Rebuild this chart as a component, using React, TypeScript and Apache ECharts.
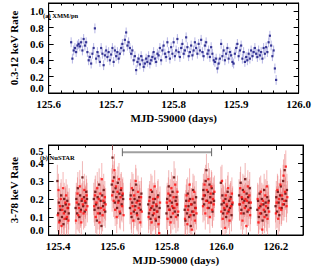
import { useEffect, useRef } from 'react';
import * as echarts from 'echarts';

// ---- XMM/pn light curve (0.3-12 keV) ----
const XMM_START = 125.636;
const XMM_STEP = 0.002;
const XMM_RATE = [
  0.62, 0.42, 0.52, 0.55, 0.50, 0.58, 0.60, 0.57, 0.62, 0.52,
  0.66, 0.58, 0.62, 0.50, 0.40, 0.44, 0.36, 0.48, 0.55, 0.79,
  0.42, 0.50, 0.45, 0.38, 0.55, 0.48, 0.34, 0.46, 0.52, 0.44,
  0.50, 0.40, 0.47, 0.55, 0.38, 0.52, 0.45, 0.50, 0.42, 0.48,
  0.55, 0.60, 0.52, 0.65, 0.74, 0.58, 0.62, 0.55, 0.48, 0.52,
  0.40, 0.45, 0.28, 0.38, 0.42, 0.35, 0.45, 0.40, 0.32, 0.36,
  0.42, 0.38, 0.45, 0.36, 0.40, 0.44, 0.50, 0.42, 0.38, 0.48,
  0.46, 0.55, 0.40, 0.52, 0.58, 0.48, 0.44, 0.62, 0.50, 0.42,
  0.56, 0.48, 0.62, 0.45, 0.52, 0.66, 0.50, 0.44, 0.55, 0.60,
  0.48, 0.52, 0.68, 0.56, 0.45, 0.50, 0.58, 0.46, 0.52, 0.62,
  0.55, 0.48, 0.60, 0.52, 0.65, 0.50, 0.45, 0.58, 0.62, 0.48,
  0.52, 0.44, 0.56, 0.48, 0.40, 0.38, 0.42, 0.30, 0.36, 0.42,
  0.60, 0.45, 0.52, 0.40, 0.48, 0.55, 0.42, 0.50, 0.46, 0.38,
  0.36, 0.48, 0.55, 0.60, 0.45, 0.52, 0.58, 0.42, 0.50, 0.38,
  0.44, 0.40, 0.48, 0.42, 0.52, 0.45, 0.50, 0.55, 0.48, 0.44,
  0.52, 0.46, 0.50, 0.42, 0.55, 0.48, 0.56, 0.50, 0.62, 0.70,
  0.58, 0.45, 0.52, 0.30, 0.16,
];
const XMM_ERR = 0.06;

// ---- NuSTAR light curve (3-78 keV), one row per orbit ----
const NU_ORBIT_START = [
  125.397, 125.464, 125.531, 125.597, 125.664, 125.731, 125.798,
  125.865, 125.931, 125.998, 126.065, 126.132, 126.199,
];
const NU_STEP = 0.0028;
const FPMA = [
  [0.30, 0.12, 0.18, 0.08, 0.14, 0.22, 0.10, 0.16, 0.06, 0.20, 0.13, 0.17, 0.09, 0.19, 0.15, 0.12],
  [0.15, 0.20, 0.12, 0.26, 0.17, 0.10, 0.22, 0.14, 0.19, 0.32, 0.16, 0.21, 0.13, 0.18, 0.24, 0.20],
  [0.20, 0.14, 0.24, 0.17, 0.08, 0.21, 0.15, 0.28, 0.12, 0.19, 0.05, 0.22, 0.16, 0.25, 0.18, 0.13],
  [0.28, 0.43, 0.24, 0.32, 0.18, 0.26, 0.21, 0.15, 0.29, 0.19, 0.23, 0.12, 0.25, 0.17, 0.22, 0.20],
  [0.15, 0.22, 0.10, 0.18, 0.25, 0.13, 0.20, 0.16, 0.28, 0.12, 0.19, 0.09, 0.21, 0.17, 0.14, 0.23],
  [0.17, 0.12, 0.21, 0.09, 0.15, 0.24, 0.11, 0.18, 0.14, 0.20, 0.08, 0.16, 0.13, 0.22, 0.10, 0.15],
  [0.12, 0.20, 0.16, 0.27, 0.14, 0.22, 0.10, 0.18, 0.24, 0.15, 0.32, 0.13, 0.19, 0.21, 0.17, 0.11],
  [0.14, 0.08, 0.19, 0.12, 0.23, 0.16, 0.10, 0.20, 0.05, 0.17, 0.13, 0.25, 0.11, 0.18, 0.15, 0.21],
  [0.20, 0.25, 0.17, 0.22, 0.30, 0.36, 0.19, 0.24, 0.15, 0.28, 0.21, 0.18, 0.26, 0.13, 0.23, 0.19],
  [0.29, 0.17, 0.22, 0.12, 0.18, 0.14, 0.20, 0.10, 0.16, 0.24, 0.13, 0.19, 0.15, 0.21, 0.11, 0.17],
  [0.22, 0.17, 0.29, 0.14, 0.20, 0.25, 0.12, 0.19, 0.31, 0.16, 0.23, 0.13, 0.21, 0.18, 0.26, 0.15],
  [0.14, 0.19, 0.10, 0.23, 0.16, 0.12, 0.20, 0.08, 0.17, 0.25, 0.13, 0.18, 0.11, 0.21, 0.15, 0.19],
  [0.16, 0.21, 0.13, 0.24, 0.18, 0.11, 0.22, 0.27, 0.15, 0.20, 0.30, 0.17, 0.36, 0.23, 0.19, 0.25],
];
const FPMB = [
  [0.11, 0.25, 0.07, 0.16, 0.20, 0.05, 0.14, 0.26, 0.12, 0.09, 0.18, 0.22, 0.10, 0.15, 0.08, 0.17],
  [0.08, 0.18, 0.23, 0.11, 0.15, 0.27, 0.13, 0.07, 0.20, 0.17, 0.12, 0.25, 0.19, 0.14, 0.22, 0.16],
  [0.16, 0.22, 0.10, 0.18, 0.26, 0.12, 0.20, 0.07, 0.23, 0.15, 0.31, 0.11, 0.19, 0.14, 0.21, 0.17],
  [0.22, 0.30, 0.19, 0.36, 0.14, 0.27, 0.10, 0.24, 0.18, 0.31, 0.13, 0.21, 0.26, 0.16, 0.23, 0.11],
  [0.20, 0.12, 0.26, 0.16, 0.08, 0.22, 0.14, 0.30, 0.18, 0.11, 0.24, 0.15, 0.19, 0.07, 0.21, 0.13],
  [0.10, 0.19, 0.14, 0.25, 0.07, 0.16, 0.20, 0.12, 0.27, 0.09, 0.17, 0.13, 0.21, 0.06, 0.01, 0.18],
  [0.18, 0.09, 0.23, 0.14, 0.19, 0.07, 0.26, 0.16, 0.12, 0.21, 0.15, 0.28, 0.10, 0.17, 0.24, 0.13],
  [0.09, 0.16, 0.22, 0.06, 0.14, 0.19, 0.28, 0.11, 0.17, 0.03, 0.20, 0.13, 0.24, 0.08, 0.15, 0.12],
  [0.16, 0.22, 0.28, 0.12, 0.19, 0.25, 0.15, 0.31, 0.18, 0.10, 0.23, 0.27, 0.14, 0.20, 0.17, 0.24],
  [0.13, 0.30, 0.09, 0.19, 0.15, 0.04, 0.22, 0.17, 0.12, 0.26, 0.14, 0.08, 0.20, 0.16, 0.23, 0.18],
  [0.17, 0.26, 0.12, 0.21, 0.08, 0.18, 0.24, 0.15, 0.20, 0.05, 0.19, 0.27, 0.14, 0.22, 0.11, 0.18],
  [0.20, 0.07, 0.15, 0.12, 0.24, 0.17, 0.03, 0.19, 0.14, 0.10, 0.22, 0.16, 0.27, 0.09, 0.18, 0.13],
  [0.12, 0.18, 0.25, 0.09, 0.20, 0.15, 0.28, 0.14, 0.22, 0.17, 0.33, 0.19, 0.24, 0.38, 0.16, 0.21],
];
const NU_ERR = 0.09;

// XMM coverage marker in panel (b)
const XMM_SPAN = [125.636, 125.964];
const XMM_SPAN_LEVEL = 0.46;

const FONT = 'Liberation Serif';

const xmmData = XMM_RATE.map((v, i) => [XMM_START + i * XMM_STEP, v, XMM_ERR]);
const nuData = (rows: number[][], offset: number) =>
  rows.flatMap((row, k) =>
    row.map((v, i) => [NU_ORBIT_START[k] + (i + offset) * NU_STEP, v, NU_ERR])
  );
const fpmaData = nuData(FPMA, 0);
const fpmbData = nuData(FPMB, 0.5);

const errRender = (color: string) => (_p: any, api: any) => {
  const x = api.value(0);
  const y = api.value(1);
  const e = api.value(2);
  const a = api.coord([x, y - e]);
  const b = api.coord([x, y + e]);
  return {
    type: 'line',
    shape: { x1: a[0], y1: a[1], x2: b[0], y2: b[1] },
    style: { stroke: color, lineWidth: 1 },
  };
};

const labelStyle = { fontFamily: FONT, fontWeight: 'bold', color: '#000', fontSize: 11 };

function xAxisMain(grid: number, min: number, max: number, interval: number | undefined, minorSplit: number) {
  return {
    type: 'value',
    gridIndex: grid,
    position: 'bottom',
    min,
    max,
    ...(interval !== undefined ? { interval } : { splitNumber: 5 }),
    name: 'MJD-59000 (days)',
    nameLocation: 'middle',
    nameGap: 19,
    nameTextStyle: { ...labelStyle, fontSize: 11 },
    axisLine: { show: true, onZero: false, lineStyle: { color: '#000', width: 1 } },
    axisTick: { show: true, inside: true, length: 5, lineStyle: { color: '#000' } },
    minorTick: { show: true, splitNumber: minorSplit, length: 2.5, lineStyle: { color: '#000' } },
    splitLine: { show: false },
    axisLabel: {
      ...labelStyle,
      margin: 5,
      showMinLabel: interval !== undefined,
      showMaxLabel: interval !== undefined,
      formatter: (v: number) => v.toFixed(1),
    },
  };
}
function xAxisMirror(grid: number, min: number, max: number, interval: number | undefined, minorSplit: number) {
  return {
    type: 'value',
    gridIndex: grid,
    position: 'top',
    min,
    max,
    ...(interval !== undefined ? { interval } : { splitNumber: 5 }),
    axisLine: { show: true, onZero: false, lineStyle: { color: '#000', width: 1 } },
    axisTick: { show: true, inside: true, length: 5, lineStyle: { color: '#000' } },
    minorTick: { show: true, splitNumber: minorSplit, length: 2.5, lineStyle: { color: '#000' } },
    splitLine: { show: false },
    axisLabel: { show: false },
  };
}
function yAxisMain(grid: number, min: number, max: number, interval: number, name: string, gap: number) {
  return {
    type: 'value',
    gridIndex: grid,
    position: 'left',
    min,
    max,
    interval,
    name,
    nameLocation: 'middle',
    nameGap: gap,
    nameTextStyle: { ...labelStyle, fontSize: 11 },
    axisLine: { show: true, onZero: false, lineStyle: { color: '#000', width: 1 } },
    axisTick: { show: true, inside: true, length: 5, lineStyle: { color: '#000' } },
    minorTick: { show: true, splitNumber: 2, length: 2.5, lineStyle: { color: '#000' } },
    splitLine: { show: false },
    axisLabel: {
      ...labelStyle,
      margin: 5,
      showMaxLabel: Math.abs(max / interval - Math.round(max / interval)) < 1e-6,
      verticalAlignMinLabel: 'bottom',
      verticalAlignMaxLabel: 'top',
      formatter: (v: number) => v.toFixed(1),
    },
  };
}
function yAxisMirror(grid: number, min: number, max: number, interval: number) {
  return {
    type: 'value',
    gridIndex: grid,
    position: 'right',
    min,
    max,
    interval,
    axisLine: { show: true, onZero: false, lineStyle: { color: '#000', width: 1 } },
    axisTick: { show: true, inside: true, length: 5, lineStyle: { color: '#000' } },
    minorTick: { show: true, splitNumber: 2, length: 2.5, lineStyle: { color: '#000' } },
    splitLine: { show: false },
    axisLabel: { show: false },
  };
}

const option: any = {
  animation: false,
  backgroundColor: '#fff',
  grid: [
    { left: 36, top: 3, width: 266, height: 90, show: true, borderColor: '#000', borderWidth: 1 },
    { left: 36, top: 145, width: 267, height: 94, show: true, borderColor: '#000', borderWidth: 1 },
  ],
  xAxis: [
    xAxisMain(0, 125.6, 126.0, 0.1, 5),
    xAxisMirror(0, 125.6, 126.0, 0.1, 5),
    xAxisMain(1, 125.365, 126.3, undefined, 2),
    xAxisMirror(1, 125.365, 126.3, undefined, 2),
  ],
  yAxis: [
    yAxisMain(0, 0, 1.1, 0.2, '0.3-12 keV Rate', 24),
    yAxisMirror(0, 0, 1.1, 0.2),
    yAxisMain(1, 0, 0.5, 0.1, '3-78 keV Rate', 24),
    yAxisMirror(1, 0, 0.5, 0.1),
  ],
  graphic: [
    {
      type: 'text',
      x: 43,
      y: 15,
      z: 10,
      style: {
        text: '(a) XMM/pn',
        fontFamily: FONT,
        fontWeight: 'bold',
        fontSize: 6.5,
        fill: '#000',
        align: 'left',
        verticalAlign: 'middle',
      },
    },
    {
      type: 'text',
      x: 40,
      y: 157,
      z: 10,
      style: {
        text: '(b) NuSTAR',
        fontFamily: FONT,
        fontWeight: 'bold',
        fontSize: 6.5,
        fill: '#000',
        align: 'left',
        verticalAlign: 'middle',
      },
    },
  ],
  series: [
    {
      type: 'custom',
      xAxisIndex: 0,
      yAxisIndex: 0,
      renderItem: errRender('rgba(130,130,210,0.6)'),
      data: xmmData,
      encode: { x: 0, y: 1 },
      clip: true,
      silent: true,
      z: 1,
    },
    {
      type: 'scatter',
      xAxisIndex: 0,
      yAxisIndex: 0,
      data: xmmData.map((d) => [d[0], d[1]]),
      symbol: 'rect',
      symbolSize: 2.2,
      itemStyle: { color: '#101080' },
      silent: true,
      z: 3,
    },
    {
      type: 'custom',
      xAxisIndex: 2,
      yAxisIndex: 2,
      renderItem: errRender('rgba(225,120,120,0.55)'),
      data: fpmaData,
      encode: { x: 0, y: 1 },
      clip: true,
      silent: true,
      z: 1,
    },
    {
      type: 'custom',
      xAxisIndex: 2,
      yAxisIndex: 2,
      renderItem: errRender('rgba(240,110,110,0.5)'),
      data: fpmbData,
      encode: { x: 0, y: 1 },
      clip: true,
      silent: true,
      z: 1,
    },
    {
      type: 'scatter',
      xAxisIndex: 2,
      yAxisIndex: 2,
      data: fpmaData.map((d) => [d[0], d[1]]),
      symbol: 'rect',
      symbolSize: 2.3,
      itemStyle: { color: '#5a0000' },
      silent: true,
      z: 3,
    },
    {
      type: 'scatter',
      xAxisIndex: 2,
      yAxisIndex: 2,
      data: fpmbData.map((d) => [d[0], d[1]]),
      symbol: 'rect',
      symbolSize: 2.3,
      itemStyle: { color: '#ff0a0a' },
      silent: true,
      z: 3,
    },
    {
      type: 'custom',
      xAxisIndex: 2,
      yAxisIndex: 2,
      data: [[XMM_SPAN[0], XMM_SPAN[1], XMM_SPAN_LEVEL]],
      encode: { x: [0, 1], y: 2 },
      silent: true,
      z: 4,
      renderItem: (_p: any, api: any) => {
        const a = api.coord([api.value(0), api.value(2)]);
        const b = api.coord([api.value(1), api.value(2)]);
        return {
          type: 'group',
          children: [
            { type: 'line', shape: { x1: a[0], y1: a[1], x2: b[0], y2: b[1] }, style: { stroke: '#a0a0a0', lineWidth: 2 } },
            { type: 'line', shape: { x1: a[0], y1: a[1] - 4, x2: a[0], y2: a[1] + 4 }, style: { stroke: '#666', lineWidth: 1 } },
            { type: 'line', shape: { x1: b[0], y1: b[1] - 4, x2: b[0], y2: b[1] + 4 }, style: { stroke: '#666', lineWidth: 1 } },
          ],
        };
      },
    },
  ],
};

export default function App() {
  const ref = useRef<HTMLDivElement>(null);
  useEffect(() => {
    const chart = echarts.init(ref.current!, null, { renderer: 'svg' });
    chart.setOption(option);
    return () => chart.dispose();
  }, []);
  return (
    <div
      ref={ref}
      style={{ position: 'fixed', left: 0, top: 0, width: 314, height: 266, background: '#fff' }}
    />
  );
}
